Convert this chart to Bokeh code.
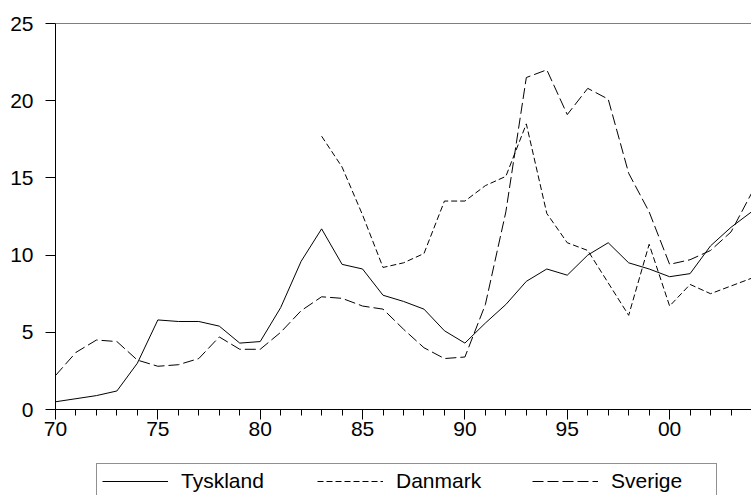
import numpy as np
from bokeh.plotting import figure
from bokeh.layouts import column
from bokeh.models import (ColumnDataSource, FixedTicker, Legend, LegendItem,
                          Span, Range1d)
from bokeh.embed import file_html
from bokeh.resources import INLINE

# ---- data -------------------------------------------------------------
years = list(range(1970, 2005))
tyskland = [0.5, 0.7, 0.9, 1.2, 3.0, 5.8, 5.7, 5.7, 5.4, 4.3,
            4.4, 6.6, 9.6, 11.7, 9.4, 9.1, 7.4, 7.0, 6.5, 5.1,
            4.3, 5.6, 6.8, 8.3, 9.1, 8.7, 10.0, 10.8, 9.5, 9.1,
            8.6, 8.8, 10.6, 11.8, 12.8]
danmark = [np.nan] * 13 + [17.7, 15.7, 12.6, 9.2, 9.5, 10.1, 13.5,
                           13.5, 14.5, 15.1, 18.5, 12.7, 10.8, 10.3, 8.2, 6.1, 10.7,
                           6.7, 8.1, 7.5, 8.0, 8.5]
sverige = [2.2, 3.7, 4.5, 4.4, 3.2, 2.8, 2.9, 3.3, 4.7, 3.9,
           3.9, 5.0, 6.4, 7.3, 7.2, 6.7, 6.5, 5.2, 4.0, 3.3,
           3.4, 6.8, 12.8, 21.5, 22.0, 19.1, 20.8, 20.1, 15.3, 12.8,
           9.4, 9.7, 10.3, 11.5, 14.0]
series_names = ["Tyskland", "Danmark", "Sverige"]
series_cols = ["tyskland", "danmark", "sverige"]
series_dash = ["solid", "6 3", "11 4"]
x_tick_values = [1970, 1975, 1980, 1985, 1990, 1995, 2000]
x_tick_labels = ["70", "75", "80", "85", "90", "95", "00"]
y_tick_values = [0, 5, 10, 15, 20, 25]

src = ColumnDataSource(dict(year=years, tyskland=tyskland,
                            danmark=danmark, sverige=sverige))

FONT = "Liberation Sans"

# ---- main chart -------------------------------------------------------
p = figure(width=751, height=463, output_backend="svg", toolbar_location=None,
           x_range=Range1d(1970, 2004), y_range=Range1d(0, 25),
           min_border_left=55, min_border_right=0, min_border_top=23,
           min_border_bottom=54)
p.outline_line_color = None
p.background_fill_color = "white"
p.border_fill_color = "white"
p.xgrid.visible = False
p.ygrid.visible = False

for col, dash in zip(series_cols, series_dash):
    p.line("year", col, source=src, line_color="black", line_width=1,
           line_dash=dash)

p.add_layout(Span(location=25, dimension="width", line_color="black",
                  line_width=1))

xa = p.xaxis[0]
xa.ticker = FixedTicker(ticks=x_tick_values, minor_ticks=years)
xa.major_label_overrides = {v: l for v, l in zip(x_tick_values, x_tick_labels)}
xa.major_tick_out = 10
xa.major_tick_in = 0
xa.minor_tick_out = 6
xa.minor_tick_in = 0
xa.major_label_standoff = 2
xa.minor_tick_line_color = "black"

ya = p.yaxis[0]
ya.ticker = FixedTicker(ticks=y_tick_values)
ya.major_tick_out = 10
ya.major_tick_in = 0
ya.minor_tick_line_color = None
ya.major_label_standoff = 12

for ax in (xa, ya):
    ax.axis_line_color = "black"
    ax.major_tick_line_color = "black"
    ax.major_label_text_font = FONT
    ax.major_label_text_font_size = "21px"
    ax.major_label_text_color = "black"

# ---- legend strip (its ranges hide the lines; only the legend shows) ----
pl = figure(width=751, height=32, output_backend="svg", toolbar_location=None,
            x_range=Range1d(0, 1), y_range=Range1d(0, 1),
            min_border_left=55, min_border_right=0, min_border_top=0,
            min_border_bottom=0)
pl.axis.visible = False
pl.grid.visible = False
pl.outline_line_color = None
pl.background_fill_color = "white"
pl.border_fill_color = "white"

items = []
for name, col, dash in zip(series_names, series_cols, series_dash):
    r = pl.line("year", col, source=src, line_color="black", line_width=1,
                line_dash=dash)
    items.append(LegendItem(label=name, renderers=[r]))

legend = Legend(items=items, location=(41, -4), orientation="horizontal",
                margin=0, padding=5, spacing=36, glyph_width=66,
                glyph_height=20, label_standoff=13, label_width=100,
                border_line_color="#222222", border_line_width=1,
                label_text_font=FONT, label_text_font_size="21px",
                label_text_color="black", background_fill_alpha=1,
                background_fill_color="white")
pl.add_layout(legend)

open("out.html", "w").write(file_html(column(p, pl, spacing=0), INLINE))
